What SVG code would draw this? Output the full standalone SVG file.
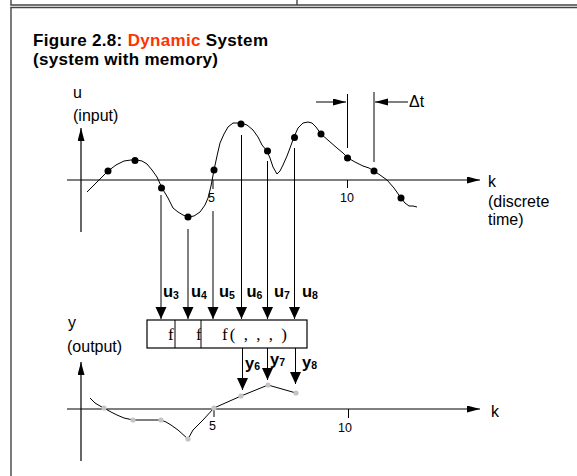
<svg xmlns="http://www.w3.org/2000/svg" width="577" height="476" viewBox="0 0 577 476">
<style>
.frame{stroke:#444;stroke-width:1.4;fill:none}
.ax{stroke:#000;stroke-width:1.2;fill:none}
.ln{stroke:#000;stroke-width:1;fill:none}
.crv{stroke:#000;stroke-width:1;fill:none;stroke-linejoin:round}
.lbl{font-family:"Liberation Sans",Arial,sans-serif;font-size:16px;fill:#000}
.tick{font-family:"Liberation Sans",Arial,sans-serif;font-size:12.5px;fill:#000}
.ttl{font-family:"Liberation Sans",Arial,sans-serif;font-size:17px;font-weight:bold;fill:#000}
.var{font-family:"Liberation Sans",Arial,sans-serif;font-size:16.5px;font-weight:bold;fill:#000}
.sub{font-size:10.5px}
.fn{font-family:"Liberation Serif","Times New Roman",serif;font-size:17px;fill:#000}
.box{fill:#fff;stroke:#000;stroke-width:1.2}
.dot{fill:#000}
.gdot{fill:#c4c4c4}
</style>
<defs>
<marker id="ah" markerUnits="userSpaceOnUse" markerWidth="13" markerHeight="12" refX="12" refY="5.5" orient="auto"><path d="M0,0 L12,5.5 L0,11 Z" fill="#000"/></marker>
<marker id="axh" markerUnits="userSpaceOnUse" markerWidth="14" markerHeight="8" refX="13" refY="3.5" orient="auto"><path d="M0,0 L13,3.5 L0,7 Z" fill="#000"/></marker>
<clipPath id="c2"><rect x="176" y="320" width="25" height="28"/></clipPath>
</defs>
<rect width="577" height="476" fill="#fff"/>
<g id="frame">
<line class="frame" x1="11" y1="0" x2="11" y2="5"/>
<line class="frame" x1="297" y1="0" x2="297" y2="5"/>
<line class="frame" x1="10.3" y1="5" x2="577" y2="5"/>
<line class="frame" x1="10.3" y1="7.5" x2="577" y2="7.5"/>
<line class="frame" x1="11" y1="7.5" x2="11" y2="476"/>
</g>
<g id="title">
<text class="ttl" x="33" y="46" textLength="235" lengthAdjust="spacing">Figure 2.8: <tspan fill="#ff3300">Dynamic</tspan> System</text>
<text class="ttl" x="33" y="65" textLength="185" lengthAdjust="spacing">(system with memory)</text>
</g>
<g id="input-graph">
<line class="ax" x1="67" y1="180" x2="480" y2="180" marker-end="url(#axh)"/>
<line class="ax" x1="81" y1="232" x2="81" y2="128" marker-end="url(#axh)"/>
<line class="ln" x1="213" y1="180" x2="213" y2="189"/>
<line class="ln" x1="347.5" y1="180" x2="347.5" y2="188"/>
<text class="tick" x="208" y="202">5</text>
<text class="tick" x="340" y="202">10</text>
<text class="lbl" x="73" y="98">u</text>
<text class="lbl" x="73" y="121">(input)</text>
<text class="lbl" x="488" y="187">k</text>
<text class="lbl" x="488" y="207">(discrete</text>
<text class="lbl" x="488" y="225">time)</text>
<path class="crv" d="M87,192 L108,171 116,165 124,161 131,160 137,160 142,161 147,164 152,170 157,177 162,188 168,198 173,208 178,212 183,215 188,217 194,216 200,212 205,205 208,198 211,186 214,170 217,156 220,143 224,134 228,127 233,123 241,123 247,125 253,130 258,137 262,145 267,151 270,158 273,167 277,174 280,171 283,165 287,156 290,148 294,137 298,128 303,123 308,122 312,123 316,127 321,134 329,141 337,148 343,153 348,158 355,162 363,166 369,168 374,171 380,175 387,180 394,188 401,198 405,203 409,206 413,206 417,207"/>
<circle class="dot" cx="108" cy="171" r="3.5"/>
<circle class="dot" cx="135" cy="160.5" r="3.5"/>
<circle class="dot" cx="161.5" cy="188" r="3.5"/>
<circle class="dot" cx="188" cy="217" r="3.5"/>
<circle class="dot" cx="214" cy="170" r="3.5"/>
<circle class="dot" cx="241" cy="124" r="3.5"/>
<circle class="dot" cx="267.5" cy="151" r="3.5"/>
<circle class="dot" cx="294.5" cy="137.5" r="3.5"/>
<circle class="dot" cx="321" cy="134" r="3.5"/>
<circle class="dot" cx="347.5" cy="158" r="3.5"/>
<circle class="dot" cx="374" cy="171" r="3.5"/>
<circle class="dot" cx="401" cy="198" r="3.5"/>
</g>
<g id="delta-t">
<line class="ln" x1="347.5" y1="94" x2="347.5" y2="148"/>
<line class="ln" x1="374" y1="92" x2="374" y2="162"/>
<line class="ln" x1="316" y1="102" x2="346" y2="102" marker-end="url(#axh)"/>
<line class="ln" x1="408" y1="102" x2="375" y2="102" marker-end="url(#axh)"/>
<text class="lbl" x="409" y="107">Δt</text>
</g>
<g id="connectors">
<line class="ln" x1="161" y1="195" x2="161" y2="319" marker-end="url(#ah)"/>
<line class="ln" x1="188" y1="229" x2="188" y2="319" marker-end="url(#ah)"/>
<line class="ln" x1="213" y1="211" x2="213" y2="319" marker-end="url(#ah)"/>
<line class="ln" x1="241.5" y1="135" x2="241.5" y2="319" marker-end="url(#ah)"/>
<line class="ln" x1="267.5" y1="161" x2="267.5" y2="319" marker-end="url(#ah)"/>
<line class="ln" x1="294.5" y1="148" x2="294.5" y2="319" marker-end="url(#ah)"/>
<line class="ln" x1="242.5" y1="348" x2="242.5" y2="390" marker-end="url(#ah)"/>
<line class="ln" x1="267.5" y1="348" x2="267.5" y2="380" marker-end="url(#ah)"/>
<line class="ln" x1="295.5" y1="348" x2="295.5" y2="384" marker-end="url(#ah)"/>
</g>
<g id="input-labels">
<text class="var" x="163" y="297">u<tspan class="sub" dy="2">3</tspan></text>
<text class="var" x="191" y="297">u<tspan class="sub" dy="2">4</tspan></text>
<text class="var" x="219" y="297">u<tspan class="sub" dy="2">5</tspan></text>
<text class="var" x="246.5" y="297">u<tspan class="sub" dy="2">6</tspan></text>
<text class="var" x="274" y="297">u<tspan class="sub" dy="2">7</tspan></text>
<text class="var" x="302" y="297">u<tspan class="sub" dy="2">8</tspan></text>
</g>
<g id="system-box">
<rect class="box" x="147" y="320" width="160" height="28"/>
<line class="ln" x1="175" y1="320" x2="175" y2="348"/>
<line class="ln" x1="201" y1="320" x2="201" y2="348"/>
<text class="fn" x="168" y="340">f</text>
<text class="fn" x="196" y="340" clip-path="url(#c2)">f</text>
<text class="fn" x="222" y="340" textLength="65" lengthAdjust="spacing">f( , , , )</text>
</g>
<g id="output-labels">
<text class="var" x="245" y="369">y<tspan class="sub" dy="1">6</tspan></text>
<text class="var" x="270" y="365">y<tspan class="sub" dy="1">7</tspan></text>
<text class="var" x="302" y="368">y<tspan class="sub" dy="1">8</tspan></text>
</g>
<g id="output-graph">
<line class="ax" x1="67" y1="409" x2="480" y2="409" marker-end="url(#axh)"/>
<line class="ax" x1="81" y1="461" x2="81" y2="362" marker-end="url(#axh)"/>
<line class="ln" x1="214" y1="409" x2="214" y2="417"/>
<line class="ln" x1="348.5" y1="409" x2="348.5" y2="418"/>
<text class="tick" x="209" y="430">5</text>
<text class="tick" x="338" y="432">10</text>
<text class="lbl" x="68" y="328">y</text>
<text class="lbl" x="67" y="352">(output)</text>
<text class="lbl" x="491" y="417">k</text>
<path class="crv" d="M90,398 L95,403 100,406 104,408 111,412 117,415 124,418 133,420 161,420 166,422 171,425 178,430 188,439 193,430 198,425 203,420 214,408 241,396 268,385 296,393"/>
<circle class="gdot" cx="104" cy="408" r="2.6"/>
<circle class="gdot" cx="133" cy="420" r="2.6"/>
<circle class="gdot" cx="161" cy="420" r="2.6"/>
<circle class="gdot" cx="188" cy="439" r="2.6"/>
<circle class="gdot" cx="214" cy="408" r="2.6"/>
<circle class="gdot" cx="241" cy="396" r="2.6"/>
<circle class="gdot" cx="268" cy="385" r="2.6"/>
<circle class="gdot" cx="296" cy="393" r="2.6"/>
</g>
</svg>
